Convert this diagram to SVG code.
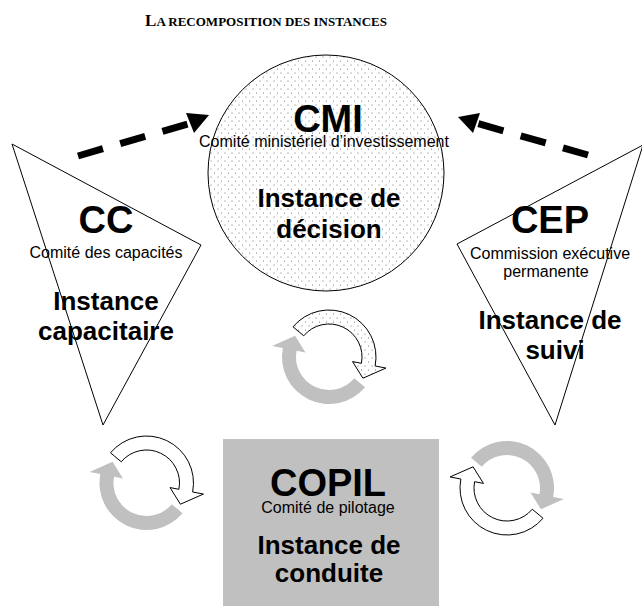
<svg xmlns="http://www.w3.org/2000/svg" xmlns:xlink="http://www.w3.org/1999/xlink" width="642" height="606" viewBox="0 0 642 606">
<style>
.title{font-family:"Liberation Serif","Times New Roman",serif;font-weight:bold;fill:#000}
.big{font-family:"Liberation Sans",Arial,sans-serif;font-weight:bold;font-size:38px;text-anchor:middle;fill:#000}
.sub{font-family:"Liberation Sans",Arial,sans-serif;font-size:16px;text-anchor:middle;fill:#000}
.role{font-family:"Liberation Sans",Arial,sans-serif;font-weight:bold;font-size:26px;text-anchor:middle;fill:#000}
.shape{fill:#fff;stroke:#000;stroke-width:1}
.dotted{fill:url(#dots);stroke:#000;stroke-width:1}
.grey{fill:#c0c0c0;stroke:none}
.dash{fill:none;stroke:#000;stroke-width:7;stroke-dasharray:26 18}
.head{fill:#000;stroke:none}
</style>
<defs>
<pattern id="dots" width="7" height="8" patternUnits="userSpaceOnUse">
<rect width="7" height="8" fill="#fff"/>
<circle cx="1" cy="1" r="0.55" fill="#666"/>
<circle cx="4.5" cy="5" r="0.55" fill="#666"/>
</pattern>
<path id="arcA" d="M36.00 30.21 A47 47 0 0 1 -46.14 -8.97 L-56.93 -11.07 L-33.92 -21.20 L-23.56 -4.58 L-32.39 -6.30 A33 33 0 0 0 25.28 21.21 Z"/>
<path id="arcB" d="M-36.00 -30.21 A47 47 0 0 1 46.14 8.97 L56.93 11.07 L33.92 21.20 L23.56 4.58 L32.39 6.30 A33 33 0 0 0 -25.28 -21.21 Z"/>
</defs>
<rect width="642" height="606" fill="#fff"/>
<text class="title" x="266" y="26" text-anchor="middle"><tspan font-size="17">L</tspan><tspan font-size="13">A RECOMPOSITION DES INSTANCES</tspan></text>

<g id="cc">
<polygon class="shape" points="12,144 201,245 103,425"/>
<text class="big" x="106" y="233">CC</text>
<text class="sub" x="106" y="258">Comité des capacités</text>
<text class="role" x="106" y="310">Instance</text>
<text class="role" x="106" y="340">capacitaire</text>
</g>

<g id="cep">
<polygon class="shape" points="643,145 457,244 555,425"/>
<text class="big" x="550" y="233">CEP</text>
<text class="sub" x="550" y="259">Commission exécutive</text>
<text class="sub" x="546" y="277">permanente</text>
<text class="role" x="550" y="329">Instance de</text>
<text class="role" x="555" y="359">suivi</text>
</g>

<g id="cmi">
<circle class="dotted" cx="326" cy="173" r="118"/>
<text class="big" x="328" y="132">CMI</text>
<text class="sub" x="324" y="147">Comité ministériel d’investissement</text>
<text class="role" x="329" y="207">Instance de</text>
<text class="role" x="329" y="238">décision</text>
</g>

<g id="copil">
<rect x="223" y="439" width="216" height="168" fill="#c0c0c0"/>
<text class="big" x="328" y="496">COPIL</text>
<text class="sub" x="328" y="513">Comité de pilotage</text>
<text class="role" x="329" y="554">Instance de</text>
<text class="role" x="329" y="582">conduite</text>
</g>

<g id="cycle-cmi">
<use xlink:href="#arcA" href="#arcA" x="329" y="357" class="grey"/>
<use xlink:href="#arcB" href="#arcB" x="329" y="357" class="dotted"/>
</g>
<g id="cycle-cc">
<use xlink:href="#arcA" href="#arcA" x="146.5" y="483" class="grey"/>
<use xlink:href="#arcB" href="#arcB" x="146.5" y="483" class="shape"/>
</g>
<g id="cycle-cep">
<use xlink:href="#arcB" href="#arcB" x="507" y="488" class="grey"/>
<use xlink:href="#arcA" href="#arcA" x="507" y="488" class="shape"/>
</g>

<g id="connectors">
<line class="dash" x1="78" y1="156" x2="191" y2="123"/>
<polygon class="head" points="186,113 209,115 194,133"/>
<line class="dash" x1="588" y1="155" x2="476" y2="123"/>
<polygon class="head" points="480,113 458,117 473,133"/>
</g>
</svg>
